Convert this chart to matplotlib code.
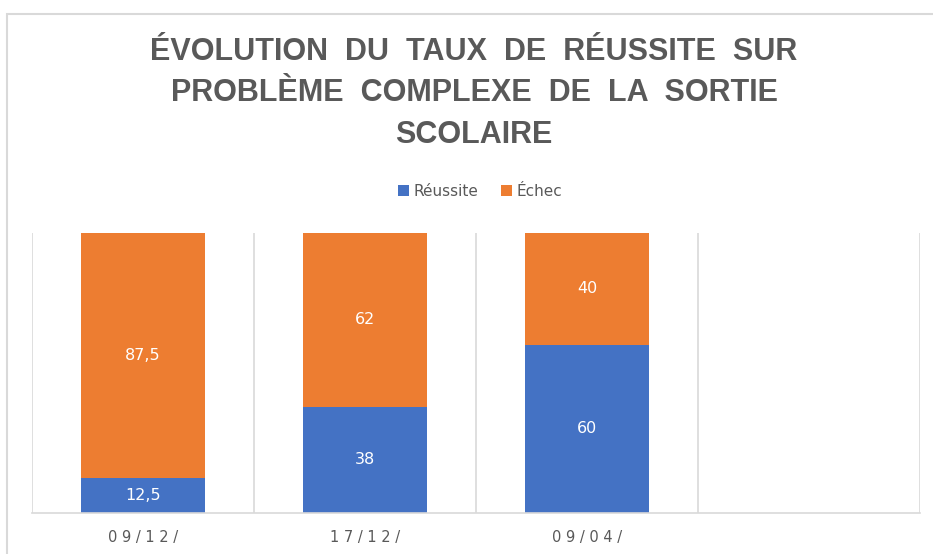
import numpy as np
import matplotlib.pyplot as plt
from matplotlib.patches import Rectangle

# data
dates = ['09/12/', '17/12/', '09/04/', '']
reussite = [12.5, 38, 60, 0]
echec = [87.5, 62, 40, 0]
title_lines = ['ÉVOLUTION DU TAUX DE RÉUSSITE SUR',
               'PROBLÈME COMPLEXE DE LA SORTIE',
               'SCOLAIRE']

blue = '#4472C4'
orange = '#ED7D31'
grey = '#595959'
line = '#D9D9D9'

W, H = 933, 554
fig = plt.figure(figsize=(W / 100, H / 100), dpi=100)

# chart border (cropped on the right/bottom in the original)
fig.patches.append(Rectangle((7 / W, -0.1), 1.2, 1.1 - 14 / H, transform=fig.transFigure,
                             fill=False, edgecolor=line, linewidth=1.5))

ax = fig.add_axes([32 / W, 1 - 513 / H, (920 - 32) / W, (513 - 233) / H])
x = np.arange(len(dates))
ax.bar(x, reussite, width=0.56, color=blue, label='Réussite')
ax.bar(x, echec, width=0.56, bottom=reussite, color=orange, label='Échec')

for i in range(3):
    ax.text(x[i], reussite[i] / 2, str(reussite[i]).replace('.', ','), ha='center', va='center',
            color='white', fontsize=11.5)
    ax.text(x[i], reussite[i] + echec[i] / 2, str(echec[i]).replace('.', ','), ha='center',
            va='center', color='white', fontsize=11.5)

ax.set_xlim(-0.5, 3.5)
ax.set_ylim(0, 100)
for s in np.arange(-0.5, 4, 1):
    ax.axvline(s, color=line, linewidth=1.2, zorder=0)
for sp in ['top', 'right', 'left']:
    ax.spines[sp].set_visible(False)
ax.spines['bottom'].set_color(line)
ax.spines['bottom'].set_linewidth(1.2)
ax.set_yticks([])
ax.set_xticks(x[:3])
ax.set_xticklabels([' '.join(d) for d in dates[:3]], color=grey, fontsize=10.5)
ax.tick_params(axis='x', length=0, pad=12)

for t, yy in zip(title_lines, [52, 93, 135]):
    fig.text(474 / W, 1 - yy / H, t.replace(' ', '  '), ha='center', va='center',
             fontsize=22, fontweight='bold', color=grey, family='Liberation Sans')

fig.legend(loc='center', bbox_to_anchor=(480 / W, 1 - 191 / H), ncol=2, frameon=False,
           fontsize=11, handlelength=0.7, handleheight=0.7, columnspacing=1.5,
           handletextpad=0.3, labelcolor=grey)

fig.savefig('out.png', dpi=100)
